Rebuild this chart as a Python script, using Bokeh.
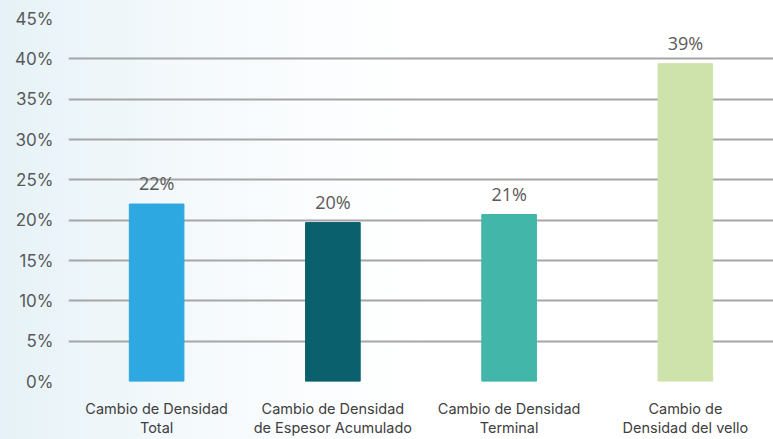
from bokeh.plotting import figure
from bokeh.models import ColumnDataSource, NumeralTickFormatter, FixedTicker, Range1d, FactorRange
from bokeh.core.properties import value
from bokeh.embed import file_html
from bokeh.resources import INLINE

categories = ["Cambio de Densidad\nTotal", "Cambio de Densidad\nde Espesor Acumulado",
              "Cambio de Densidad\nTerminal", "Cambio de\nDensidad del vello"]
values = [22.0, 19.7, 20.7, 39.4]
labels = ["22%", "20%", "21%", "39%"]
colors = ["#2ea8e0", "#0b606e", "#41b6a9", "#cee3ab"]
y_ticks = [0, 5, 10, 15, 20, 25, 30, 35, 40, 45]

src = ColumnDataSource(dict(cat=categories, val=values, lab=labels, col=colors))

p = figure(width=773, height=439, x_range=FactorRange(*categories, range_padding=0),
           y_range=Range1d(0, 45), output_backend="svg", toolbar_location=None,
           min_border_left=68, min_border_top=18, min_border_right=0, min_border_bottom=58)
p.vbar(x="cat", top="val", width=0.31, color="col", source=src)
p.text(x="cat", y="val", text="lab", source=src, y_offset=-9,
       text_align="center", text_baseline="bottom", text_color="#595959",
       text_font=value("Open Sans"), text_font_size="18px")

p.outline_line_color = None
p.background_fill_color = None
p.border_fill_color = None
p.styles = {"background-image":
            "linear-gradient(90deg, #e6f2f7 0%, #f2f8fb 20%, #fbfdfe 40%, #ffffff 55%)"}
p.xgrid.grid_line_color = None
p.ygrid.grid_line_color = "#a6a6a6"
p.ygrid.grid_line_width = 2
p.ygrid.ticker = FixedTicker(ticks=y_ticks)

p.yaxis.ticker = FixedTicker(ticks=y_ticks)
p.yaxis.formatter = NumeralTickFormatter(format="0")
p.yaxis.major_label_overrides = {t: f"{t}%" for t in y_ticks}
p.yaxis.axis_line_color = None
p.yaxis.major_tick_line_color = None
p.yaxis.minor_tick_line_color = None
p.yaxis.major_label_standoff = 9
p.yaxis.major_label_text_font = "Inter"
p.yaxis.major_label_text_font_size = "17px"
p.yaxis.major_label_text_color = "#595959"

p.xaxis.axis_line_color = None
p.xaxis.major_tick_line_color = None
p.xaxis.major_label_standoff = 12
p.xaxis.major_label_text_font = "Inter"
p.xaxis.major_label_text_font_size = "14.5px"
p.xaxis.major_label_text_color = "#404040"
p.xaxis.major_label_text_line_height = 1.15

open("out.html", "w").write(file_html(p, INLINE))
